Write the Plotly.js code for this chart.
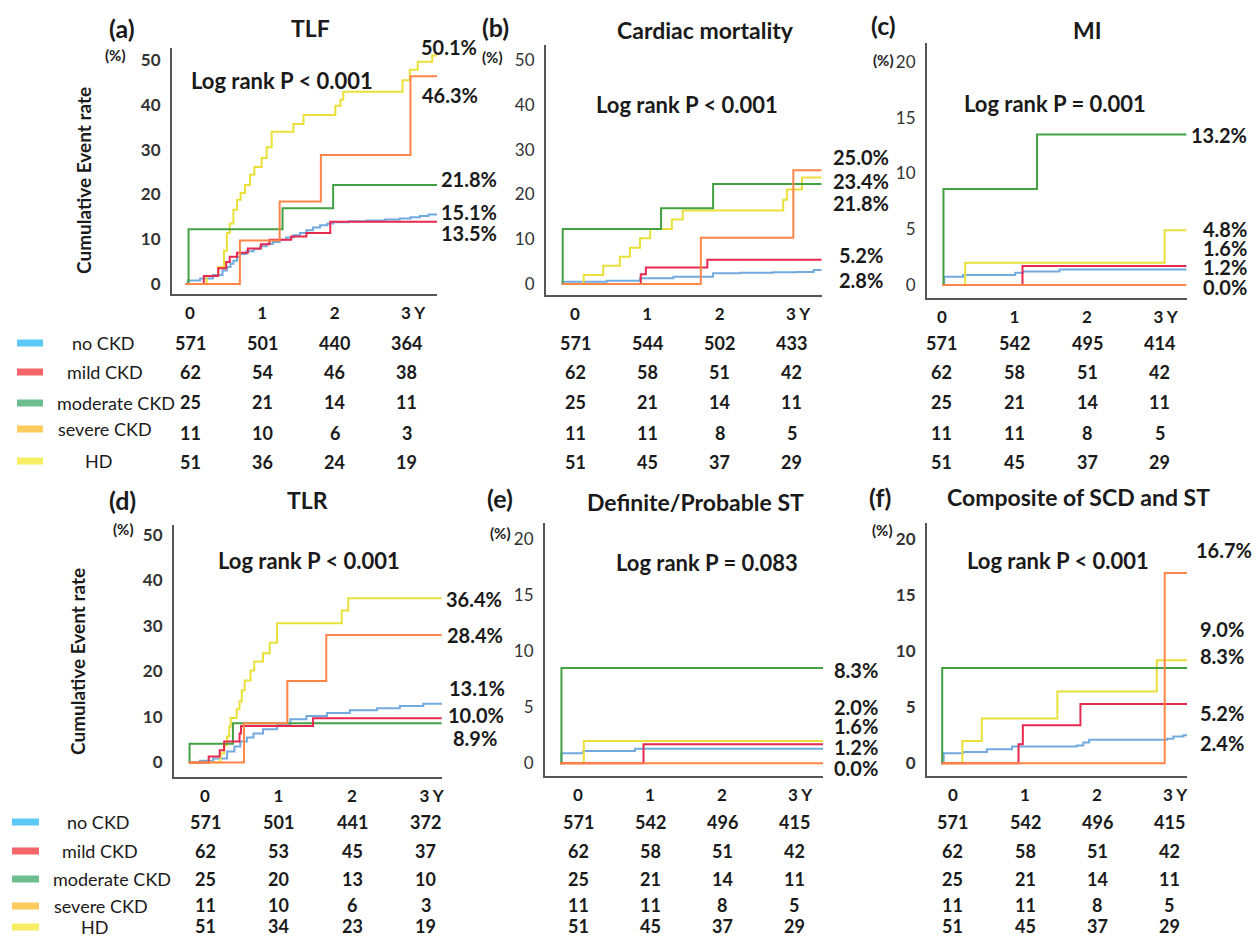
<!DOCTYPE html>
<html><head><meta charset="utf-8">
<script src="https://cdn.plot.ly/plotly-3.0.1.min.js"></script>
<style>html,body{margin:0;padding:0;background:#fff}#chart{width:1259px;height:938px}</style>
</head><body><div id="chart"></div>
<script>
const W = 1259, H = 938;
const FONT = 'Lato, "Open Sans", sans-serif';

// ---------- data ----------
const groups = ['no CKD', 'mild CKD', 'moderate CKD', 'severe CKD', 'HD'];
const panelTags = ['(a)', '(b)', '(c)', '(d)', '(e)', '(f)'];
const panelTitles = ['TLF', 'Cardiac mortality', 'MI', 'TLR', 'Definite/Probable ST', 'Composite of SCD and ST'];
const logRank = ['Log rank P < 0.001', 'Log rank P < 0.001', 'Log rank P = 0.001', 'Log rank P < 0.001', 'Log rank P = 0.083', 'Log rank P < 0.001'];
const yearTicks = [0, 1, 2, 3];
const yearTickText = ['0', '1', '2', '\u00a0\u00a0\u00a03 Y'];
const yTicks50 = [0, 10, 20, 30, 40, 50];
const yTicks20 = [0, 5, 10, 15, 20];

// (a) TLF  [year, cumulative %]
const tlf_no = [[-0.06,0],[-0.03,0.8],[0.14,1.2],[0.32,2.0],[0.45,3.0],[0.51,3.8],[0.56,4.5],[0.60,5.2],[0.65,6.0],[0.69,6.7],[0.78,7.3],[0.88,7.8],[0.97,8.4],[1.06,9.0],[1.15,9.4],[1.24,9.9],[1.33,10.4],[1.43,10.9],[1.52,11.4],[1.61,12.0],[1.70,12.6],[1.80,13.1],[1.90,13.5],[1.98,13.8],[2.20,14.0],[2.44,14.2],[2.70,14.4],[2.90,14.6],[3.05,14.9],[3.18,15.2],[3.30,15.5],[3.42,15.6]];
const tlf_mild = [[-0.06,0],[0.19,1.8],[0.39,3.5],[0.50,4.9],[0.55,6.1],[0.65,7.0],[0.80,7.9],[0.98,8.9],[1.10,9.9],[1.40,10.6],[1.61,11.4],[1.94,13.9],[3.42,13.9]];
const tlf_mod = [[-0.04,0],[-0.02,12.2],[1.28,16.9],[1.98,22.1],[3.42,22.1]];
const tlf_sev = [[-0.06,0],[0.69,9.7],[1.24,18.4],[1.81,28.8],[3.05,46.4],[3.42,46.4]];
const tlf_hd = [[-0.06,0],[0.23,1.8],[0.39,3.8],[0.47,7.4],[0.51,11.4],[0.55,13.5],[0.60,16.6],[0.65,18.8],[0.70,20.3],[0.76,22.1],[0.83,24.4],[0.89,26.1],[0.99,28.1],[1.06,30.5],[1.13,34.0],[1.43,35.7],[1.57,37.7],[2.01,39.8],[2.08,41.1],[2.12,42.9],[2.94,45.5],[3.04,47.8],[3.15,49.6],[3.35,51.0],[3.42,51.0]];
// (b) Cardiac mortality
const cm_no = [[-0.19,0],[-0.17,0.5],[0.44,0.7],[0.90,1.3],[1.36,1.6],[1.91,2.4],[2.28,2.5],[2.74,2.6],[3.07,2.7],[3.30,3.1],[3.41,3.1]];
const cm_mild = [[-0.18,0],[0.91,2.2],[0.98,3.7],[1.83,5.4],[3.41,5.4]];
const cm_mod = [[-0.18,0],[-0.17,12.3],[1.19,16.9],[1.91,22.3],[3.41,22.3]];
const cm_sev = [[-0.18,0],[1.74,10.3],[3.02,25.4],[3.41,25.4]];
const cm_hd = [[-0.18,0],[0.12,2.0],[0.39,4.1],[0.62,6.1],[0.76,8.1],[0.90,10.2],[1.04,12.3],[1.34,14.4],[1.49,16.4],[2.88,18.8],[2.93,21.1],[3.14,23.8],[3.41,23.8]];
// (c) MI
const mi_no = [[0.0,0],[0.03,0.74],[0.29,0.9],[1.01,1.1],[1.12,1.2],[1.62,1.4],[3.37,1.4]];
const mi_mild = [[0.0,0],[1.11,1.7],[3.37,1.7]];
const mi_mod = [[0.0,0],[0.02,8.6],[1.31,13.5],[3.37,13.5]];
const mi_sev = [[0.0,0],[3.37,0]];
const mi_hd = [[0.0,0],[0.32,2.0],[3.07,4.9],[3.37,4.9]];
// (d) TLR
const tlr_no = [[-0.22,0],[-0.07,0.4],[0.11,0.9],[0.30,2.4],[0.40,3.5],[0.48,4.6],[0.57,5.5],[0.66,6.4],[0.79,7.3],[0.98,8.2],[1.16,9.5],[1.38,10.2],[1.66,10.9],[1.97,11.5],[2.34,11.9],[2.65,12.4],[2.97,12.9],[3.22,13.0]];
const tlr_mild = [[-0.22,0],[0.05,1.3],[0.20,2.7],[0.26,4.6],[0.47,6.4],[0.49,8.0],[1.47,9.7],[3.22,9.7]];
const tlr_mod = [[-0.22,0],[-0.21,4.1],[0.38,8.6],[3.22,8.6]];
const tlr_sev = [[-0.22,0],[0.53,8.6],[1.12,17.9],[1.65,28.0],[3.22,28.0]];
const tlr_hd = [[-0.22,0],[0.21,2.0],[0.26,3.8],[0.30,5.7],[0.33,7.9],[0.35,9.8],[0.43,11.7],[0.47,13.4],[0.50,15.9],[0.54,18.0],[0.62,20.2],[0.67,22.2],[0.79,24.0],[0.88,26.3],[0.98,30.6],[1.86,33.4],[1.95,36.1],[3.22,36.1]];
// (e) Definite/Probable ST
const st_no = [[-0.25,0],[-0.23,0.9],[0.07,1.1],[0.79,1.3],[3.42,1.3]];
const st_mild = [[-0.25,0],[0.91,1.7],[3.42,1.7]];
const st_mod = [[-0.25,0],[-0.23,8.5],[3.42,8.5]];
const st_sev = [[-0.25,0],[3.42,0]];
const st_hd = [[-0.25,0],[0.08,2.0],[3.42,2.0]];
// (f) Composite of SCD and ST
const sc_no = [[-0.16,0],[-0.13,0.9],[0.14,1.0],[0.47,1.25],[0.82,1.5],[1.72,1.6],[1.81,1.85],[1.89,2.1],[2.97,2.2],[3.06,2.4],[3.20,2.5],[3.25,2.5]];
const sc_mild = [[-0.16,0],[0.91,1.7],[0.97,3.4],[1.77,5.3],[3.25,5.3]];
const sc_mod = [[-0.16,0],[-0.15,8.5],[3.25,8.5]];
const sc_sev = [[-0.16,0],[2.94,17.0],[3.25,17.0]];
const sc_hd = [[-0.16,0],[0.13,2.0],[0.40,4.0],[1.45,6.4],[2.83,9.2],[3.25,9.2]];

// numbers at risk (rows: no, mild, moderate, severe, HD; columns: 0,1,2,3 Y)
const risk_tlf = [[571,501,440,364],[62,54,46,38],[25,21,14,11],[11,10,6,3],[51,36,24,19]];
const risk_cm  = [[571,544,502,433],[62,58,51,42],[25,21,14,11],[11,11,8,5],[51,45,37,29]];
const risk_mi  = [[571,542,495,414],[62,58,51,42],[25,21,14,11],[11,11,8,5],[51,45,37,29]];
const risk_tlr = [[571,501,441,372],[62,53,45,37],[25,20,13,10],[11,10,6,3],[51,34,23,19]];
const risk_st  = [[571,542,496,415],[62,58,51,42],[25,21,14,11],[11,11,8,5],[51,45,37,29]];
const risk_sc  = [[571,542,496,415],[62,58,51,42],[25,21,14,11],[11,11,8,5],[51,45,37,29]];

// 3-year rates written at the right of each panel
const end_tlf = ['50.1%','46.3%','21.8%','15.1%','13.5%'];
const end_cm  = ['25.0%','23.4%','21.8%','5.2%','2.8%'];
const end_mi  = ['13.2%','4.8%','1.6%','1.2%','0.0%'];
const end_tlr = ['36.4%','28.4%','13.1%','10.0%','8.9%'];
const end_st  = ['8.3%','2.0%','1.6%','1.2%','0.0%'];
const end_sc  = ['16.7%','9.0%','8.3%','5.2%','2.4%'];

// ---------- styles / layout geometry (pixels) ----------
const lineColors = ['#72AADF', '#E8294F', '#43A043', '#FF8548', '#EAE03A'];
const legendColors = ['#5BC8F5', '#F26568', '#6DBE8E', '#FDCB5E', '#F7EE63'];
const drawOrder = [0, 4, 2, 1, 3];
const panelCurves = [
  [tlf_no, tlf_mild, tlf_mod, tlf_sev, tlf_hd],
  [cm_no, cm_mild, cm_mod, cm_sev, cm_hd],
  [mi_no, mi_mild, mi_mod, mi_sev, mi_hd],
  [tlr_no, tlr_mild, tlr_mod, tlr_sev, tlr_hd],
  [st_no, st_mild, st_mod, st_sev, st_hd],
  [sc_no, sc_mild, sc_mod, sc_sev, sc_hd]
];
const panelRisk = [risk_tlf, risk_cm, risk_mi, risk_tlr, risk_st, risk_sc];
const panelEnd = [end_tlf, end_cm, end_mi, end_tlr, end_st, end_sc];
const geo = [
  {l:172, r:437, t:48, b:294, x0:190,   sx:72.3, y0:284,   sy:4.48,  yt:yTicks50, bold:true},
  {l:546, r:822, t:45, b:295, x0:575,   sx:72.3, y0:284,   sy:4.48,  yt:yTicks50, bold:false},
  {l:927, r:1187,t:43, b:298, x0:942,   sx:72.5, y0:285,   sy:11.15, yt:yTicks20, bold:false},
  {l:174, r:442, t:525,b:777, x0:205,   sx:73.5, y0:762.5, sy:4.55,  yt:yTicks50, bold:true},
  {l:545, r:823, t:523,b:776, x0:578,   sx:72,   y0:763.3, sy:11.2,  yt:yTicks20, bold:false},
  {l:927, r:1187,t:523,b:776, x0:953,   sx:72,   y0:763.3, sy:11.2,  yt:yTicks20, bold:true}
];
const tagPos = [[122,28],[495,27],[883,25],[122,500],[500,498],[880,497]];
const titlePos = [[310,28],[705,30],[1087,30],[307,500],[695,502],[1078,497]];
const logPos = [[282,80],[687,105],[1055,103],[309,560],[707,562],[1058,560]];
const unitPos = [[115,55],[492,57],[883,60],[123,529],[500,533],[882,530]];
const endX = [[420,421,440,440,440],[832,832,832,838,838],[1190,1202,1202,1202,1202],[445,446,448,447,452],[833,833,833,833,833],[1195,1199,1199,1199,1199]];
const endY = [[47,95,179,212,233],[157,181,203,255,280],[135,229,248,267,287],[599,635,688,715,738],[670,707,726,747,768],[550,629,656,713,743]];
const riskRowY = [[343,372,402,433,462],[822,851,879,905,926]];
const legendBar = [{x0:17,x1:43,y:[343,372,403,429,461]},{x0:12,x1:39,y:[822,851,879,906,927]}];
const legendLabelX = [[103,105,116,105,98],[98,100,112,101,94]];
const axisTitlePos = [[83,181],[77,662]];

// ---------- build ----------
const px = x => x / W, py = y => 1 - y / H;
const traces = [], annotations = [], shapes = [];
const layout = {
  width: W, height: H, margin: {l:0, r:0, t:0, b:0},
  paper_bgcolor: '#fff', plot_bgcolor: 'rgba(0,0,0,0)',
  showlegend: false, font: {family: FONT, color: '#1a1a1a'}
};
function txt(x, y, text, size, extra) {
  annotations.push(Object.assign({xref:'paper', yref:'paper', x:px(x), y:py(y), text:text,
    showarrow:false, xanchor:'center', yanchor:'middle', borderpad:0,
    font:{family:FONT, size:size, color:'#1a1a1a'}}, extra || {}));
}

geo.forEach((g, i) => {
  const n = i + 1, xa = 'xaxis' + (n === 1 ? '' : n), ya = 'yaxis' + (n === 1 ? '' : n);
  const xr = 'x' + (n === 1 ? '' : n), yr = 'y' + (n === 1 ? '' : n);
  layout[xa] = {
    domain: [g.l / W, g.r / W], anchor: yr,
    range: [(g.l - g.x0) / g.sx, (g.r - g.x0) / g.sx],
    showline: true, linecolor: '#555', linewidth: 2, showgrid: false, zeroline: false,
    tickmode: 'array', tickvals: yearTicks, ticktext: yearTickText, ticks: '',
    ticklabelstandoff: 3, tickfont: {family: FONT, size: 17, color: '#1a1a1a', weight: 'bold'}
  };
  layout[ya] = {
    domain: [1 - g.b / H, 1 - g.t / H], anchor: xr,
    range: [(g.y0 - g.b) / g.sy, (g.y0 - g.t) / g.sy],
    showline: true, linecolor: '#555', linewidth: 2, showgrid: false, zeroline: false,
    tickmode: 'array', tickvals: g.yt, ticks: '', ticklabelstandoff: 6,
    tickfont: {family: FONT, size: 17, color: '#333', weight: g.bold ? 'bold' : 'normal'}
  };
  drawOrder.forEach(k => {
    const c = panelCurves[i][k];
    traces.push({type: 'scatter', mode: 'lines', xaxis: xr, yaxis: yr,
      x: c.map(p => p[0]), y: c.map(p => p[1]),
      line: {shape: 'hv', color: lineColors[k], width: 2}, name: groups[k], hoverinfo: 'skip'});
  });
  // titles and labels
  txt(tagPos[i][0], tagPos[i][1], '<b>' + panelTags[i] + '</b>', 25);
  txt(titlePos[i][0], titlePos[i][1], '<b>' + panelTitles[i] + '</b>', 23);
  txt(logPos[i][0], logPos[i][1], '<b>' + logRank[i] + '</b>', 22);
  txt(unitPos[i][0], unitPos[i][1], '<b>(%)</b>', 15);
  panelEnd[i].forEach((s, k) => txt(endX[i][k], endY[i][k], '<b>' + s + '</b>', 20, {xanchor: 'left'}));
  // numbers at risk
  const rowY = riskRowY[i < 3 ? 0 : 1];
  panelRisk[i].forEach((row, k) => row.forEach((v, j) => {
    annotations.push({xref: xr, yref: 'paper', x: yearTicks[j], y: py(rowY[k]), text: '<b>' + v + '</b>',
      showarrow: false, xanchor: 'center', yanchor: 'middle', borderpad: 0,
      font: {family: FONT, size: 18, color: '#1a1a1a'}});
  }));
});

// legends and axis titles
[0, 1].forEach(r => {
  groups.forEach((gname, k) => {
    const b = legendBar[r];
    shapes.push({type: 'rect', xref: 'paper', yref: 'paper', x0: px(b.x0), x1: px(b.x1),
      y0: py(b.y[k] + 3.5), y1: py(b.y[k] - 3.5), fillcolor: legendColors[k], line: {width: 0}});
    txt(legendLabelX[r][k], b.y[k], gname, 18);
  });
  txt(axisTitlePos[r][0], axisTitlePos[r][1], '<b>Cumulative Event rate</b>', 19, {textangle: -90});
});

layout.annotations = annotations;
layout.shapes = shapes;
Plotly.newPlot('chart', traces, layout, {staticPlot: true, displayModeBar: false});
</script></body></html>
